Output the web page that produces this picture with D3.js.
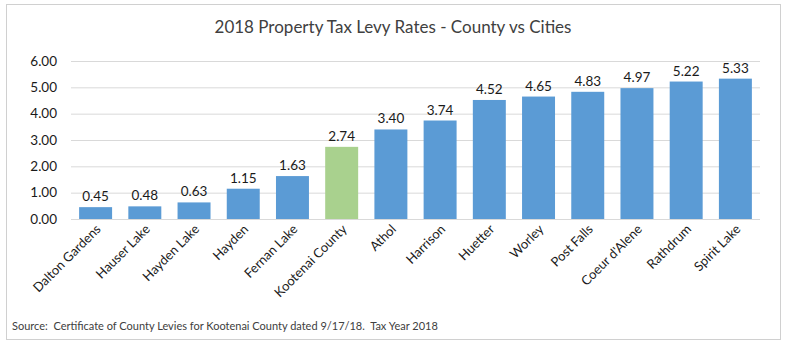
<html>
<head>
<style>
  body { margin: 0; background: #fff; }
  text { font-family: Lato, "Open Sans", sans-serif; }
</style>
</head>
<body>
<div id="chart"></div>
<script src="https://d3js.org/d3.v7.min.js"></script>
<script>
const W = 787, H = 345
const M = { LEFT: 71, RIGHT: 27, TOP: 61, BOTTOM: 126 }

// data
const places = ["Dalton Gardens", "Hauser Lake", "Hayden Lake", "Hayden", "Fernan Lake",
  "Kootenai County", "Athol", "Harrison", "Huetter", "Worley", "Post Falls",
  "Coeur d'Alene", "Rathdrum", "Spirit Lake"]
const rates = [0.45, 0.48, 0.63, 1.15, 1.63, 2.74, 3.40, 3.74, 4.52, 4.65, 4.83, 4.97, 5.22, 5.33]
const yTicks = [0, 1, 2, 3, 4, 5, 6]
const highlight = "Kootenai County"

const svg = d3.select("#chart").append("svg")
  .attr("width", W).attr("height", H)

// outer frame
svg.append("rect")
  .attr("x", 6.5).attr("y", 4.5)
  .attr("width", 774).attr("height", 335)
  .attr("fill", "#fff").attr("stroke", "#d0d0d0")

svg.append("text")
  .attr("x", 393).attr("y", 33)
  .attr("text-anchor", "middle")
  .attr("font-size", "17px")
  .attr("fill", "#404040")
  .text("2018 Property Tax Levy Rates - County vs Cities")

const x = d3.scaleBand()
  .domain(places)
  .range([M.LEFT, W - M.RIGHT])
  .paddingInner(0.33).paddingOuter(0.165)

const y = d3.scaleLinear()
  .domain([0, 6])
  .range([H - M.BOTTOM, M.TOP])

// grid + y axis
const yAxis = d3.axisLeft(y)
  .tickValues(yTicks)
  .tickFormat(d3.format(".2f"))
  .tickSize(-(W - M.RIGHT - M.LEFT))
  .tickPadding(14)

svg.append("g")
  .attr("transform", `translate(${M.LEFT},0)`)
  .call(yAxis)
  .call(g => g.select(".domain").remove())
  .call(g => g.selectAll("line").attr("stroke", "#d9d9d9"))
  .call(g => g.selectAll("text")
    .attr("font-size", "13.5px")
    .attr("fill", "#1a1a1a")
    .attr("font-family", "Lato, sans-serif"))

// bars
svg.append("g").selectAll("rect")
  .data(places)
  .join("rect")
    .attr("x", d => x(d))
    .attr("width", x.bandwidth())
    .attr("y", (d, i) => y(rates[i]))
    .attr("height", (d, i) => y(0) - y(rates[i]))
    .attr("fill", d => d === highlight ? "#a9d18e" : "#5b9bd5")

// value labels
svg.append("g").selectAll("text")
  .data(places)
  .join("text")
    .attr("x", d => x(d) + x.bandwidth() / 2)
    .attr("y", (d, i) => y(rates[i]) - 6)
    .attr("text-anchor", "middle")
    .attr("font-size", "13.5px")
    .attr("fill", "#1a1a1a")
    .text((d, i) => rates[i].toFixed(2))

// x labels
svg.append("g").selectAll("text")
  .data(places)
  .join("text")
    .attr("transform", d => `translate(${x(d) + x.bandwidth() / 2 + 6},${y(0) + 11}) rotate(-45)`)
    .attr("text-anchor", "end")
    .attr("font-size", "13px")
    .attr("fill", "#1a1a1a")
    .text(d => d)

svg.append("text")
  .attr("x", 12).attr("y", 330)
  .attr("font-size", "11px")
  .attr("fill", "#404040")
  .style("white-space", "pre")
  .text("Source:  Certificate of County Levies for Kootenai County dated 9/17/18.  Tax Year 2018")
</script>
</body>
</html>
